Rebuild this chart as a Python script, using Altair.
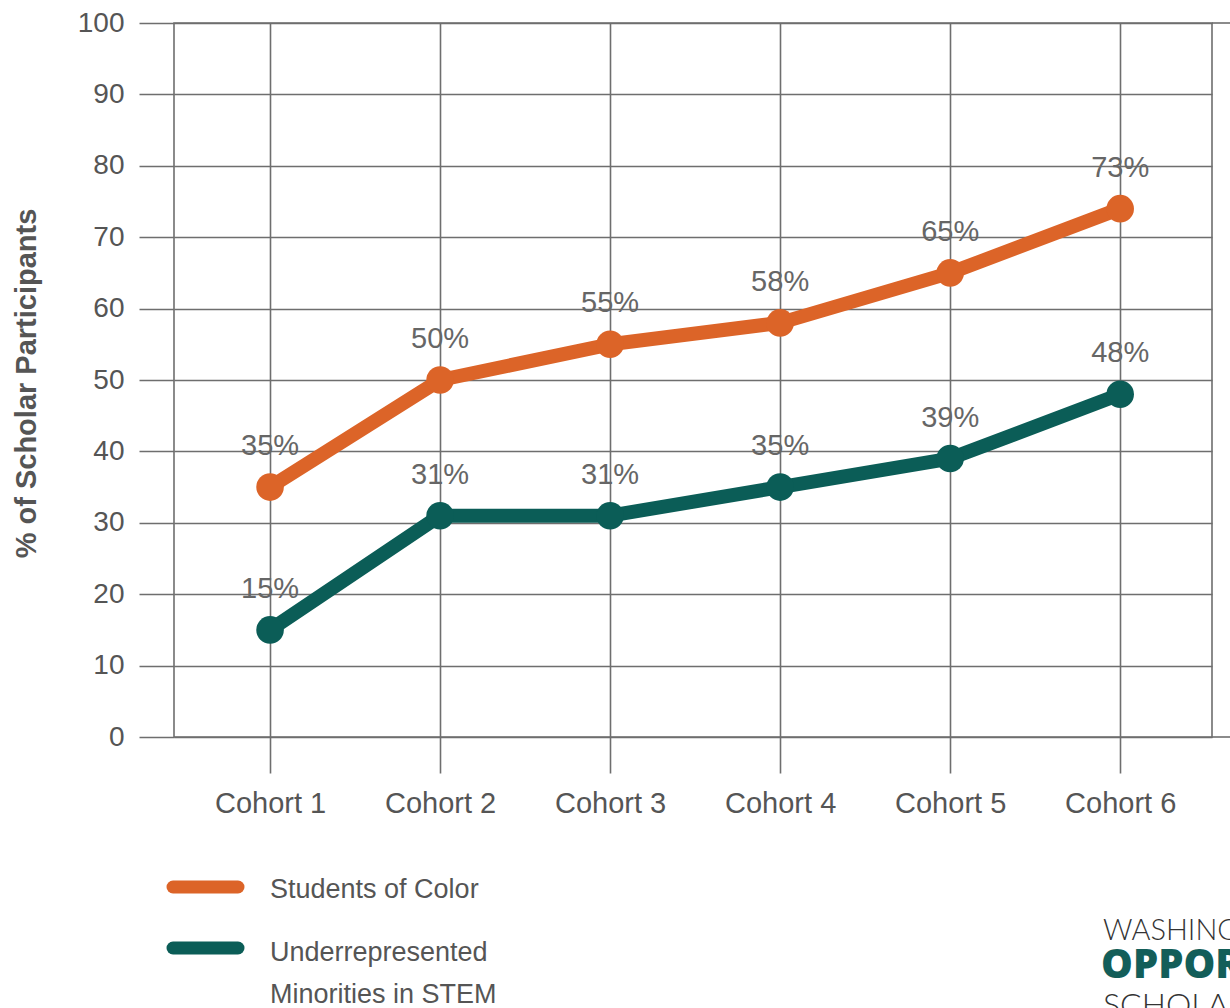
import altair as alt
import pandas as pd

cohorts = [1, 2, 3, 4, 5, 6]
series_names = ["Students of Color", "Underrepresented Minorities in STEM"]
legend_lines = [["Students of Color"], ["Underrepresented", "Minorities in STEM"]]
students_of_color = [35, 50, 55, 58, 65, 74]
students_labels = ["35%", "50%", "55%", "58%", "65%", "73%"]
urm_stem = [15, 31, 31, 35, 39, 48]
urm_labels = ["15%", "31%", "31%", "35%", "39%", "48%"]
colors = ["#DC6428", "#0B5D57"]

rows = []
for c, v, l in zip(cohorts, students_of_color, students_labels):
    rows.append({"cohort": c, "value": v, "label": l, "series": series_names[0]})
for c, v, l in zip(cohorts, urm_stem, urm_labels):
    rows.append({"cohort": c, "value": v, "label": l, "series": series_names[1]})
df = pd.DataFrame(rows)

FONT = "Liberation Sans"
GRID = "#6e6e6e"
TXT = "#555555"

color_scale = alt.Scale(domain=series_names, range=colors)

x_enc = alt.X(
    "cohort:Q",
    scale=alt.Scale(domain=[0.435, 6.54], nice=False, zero=False),
    axis=alt.Axis(
        values=cohorts,
        labelExpr="'Cohort ' + datum.value",
        title=None,
        grid=True,
        gridColor=GRID,
        gridWidth=1.6,
        domain=False,
        ticks=True,
        tickSize=36,
        tickColor=GRID,
        tickWidth=1.6,
        labelFontSize=29,
        labelColor=TXT,
        labelFont=FONT,
        labelPadding=16,
    ),
)
y_enc = alt.Y(
    "value:Q",
    scale=alt.Scale(domain=[0, 100], nice=False),
    axis=alt.Axis(
        values=list(range(0, 101, 10)),
        title="% of Scholar Participants",
        titleFont=FONT,
        titleFontSize=29,
        titleFontWeight="bold",
        titleColor=TXT,
        titleAngle=270,
        titleAlign="center",
        titleBaseline="middle",
        titleX=-148,
        titleY=360,
        grid=True,
        gridColor=GRID,
        gridWidth=1.6,
        domain=False,
        tickSize=35,
        tickColor=GRID,
        tickWidth=1.6,
        labelFontSize=28,
        labelColor=TXT,
        labelFont=FONT,
        labelPadding=15,
    ),
)

lines = alt.Chart(df).mark_line(
    strokeWidth=14,
    strokeCap="round",
    strokeJoin="round",
    point=alt.OverlayMarkDef(size=760, filled=True, opacity=1),
).encode(
    x=x_enc,
    y=y_enc,
    color=alt.Color("series:N", scale=color_scale, legend=None),
    detail="series:N",
)

labels = alt.Chart(df).mark_text(
    dy=-41, fontSize=29, font=FONT, color="#666666"
).encode(x="cohort:Q", y="value:Q", text="label:N")

edge_df = pd.DataFrame({"v": [0, 100]})
edges = alt.Chart(edge_df).mark_rule(color=GRID, strokeWidth=1.6).encode(
    y="v:Q", x=alt.value(1038), x2=alt.value(1070)
)

# manual legend
leg_df = pd.DataFrame({"series": series_names})
legend_layers = []
sym_y = [864, 925]
txt_y = [867, 938]
for i, name in enumerate(series_names):
    base = alt.Chart(leg_df).transform_filter(alt.datum.series == name)
    legend_layers.append(
        base.mark_rule(strokeWidth=13, strokeCap="round").encode(
            x=alt.value(-1), x2=alt.value(64), y=alt.value(sym_y[i]),
            color=alt.Color("series:N", scale=color_scale, legend=None),
        )
    )
    legend_layers.append(
        base.mark_text(
            text=legend_lines[i], font=FONT, fontSize=27, color=TXT, align="left",
            baseline="middle" if len(legend_lines[i]) == 1 else "alphabetic",
            lineHeight=42,
        ).encode(x=alt.value(96), y=alt.value(txt_y[i]))
    )

logo_df = pd.DataFrame({"t": ["WASHINGTON OPPORTUNITY SCHOLARSHIP"]})
logo1 = alt.Chart(logo_df).mark_text(
    text="WASHINGTON", font="Lato", fontSize=29, fontWeight=300, color="#333333",
    align="left", baseline="middle"
).encode(x=alt.value(929), y=alt.value(908))
logo2 = alt.Chart(logo_df).mark_text(
    text="OPPORTUNITY", font="Open Sans", fontSize=40, fontWeight=800, color="#135E59",
    align="left", baseline="middle"
).encode(x=alt.value(927), y=alt.value(943))
logo3 = alt.Chart(logo_df).mark_text(
    text="SCHOLARSHIP", font="Lato", fontSize=32, fontWeight=300, color="#333333",
    align="left", baseline="middle"
).encode(x=alt.value(929), y=alt.value(983))

chart = alt.layer(lines, labels, edges, *legend_layers, logo1, logo2, logo3).properties(
    width=1038,
    height=714,
    autosize=alt.AutoSizeParams(type="none"),
    padding={"left": 174, "top": 23, "right": 18, "bottom": 271},
).configure(
    background="white",
    view=alt.ViewConfig(stroke=GRID, strokeWidth=1.6),
)

chart.save("out.html", embed_options={"renderer": "svg", "actions": False})
